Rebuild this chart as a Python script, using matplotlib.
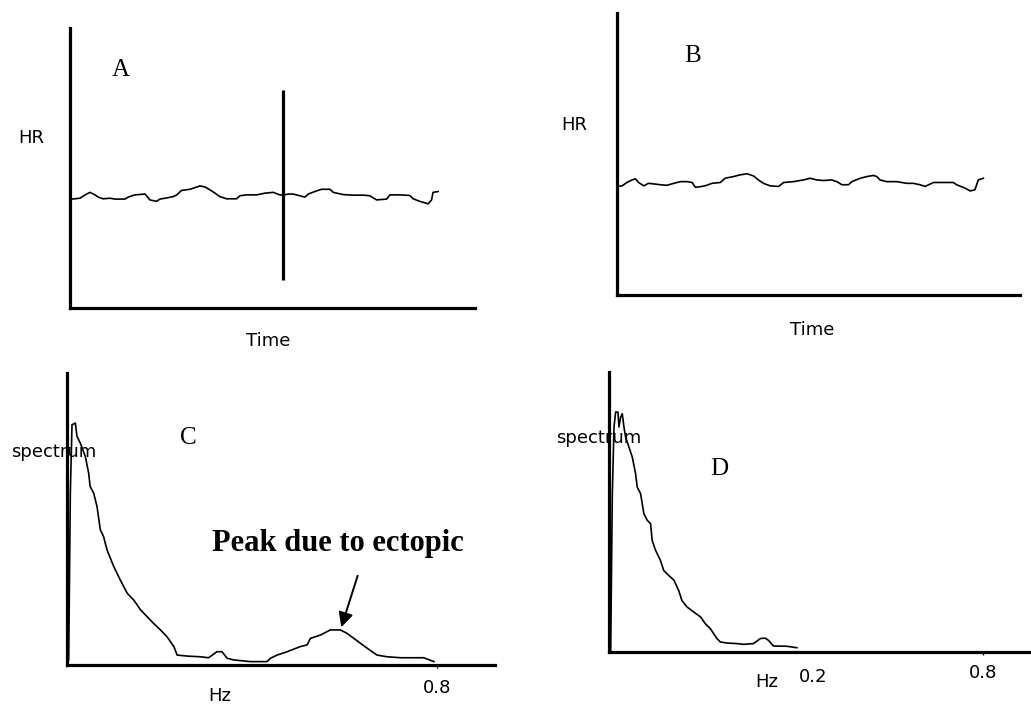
import matplotlib
matplotlib.use("Agg")
import matplotlib.pyplot as plt
import numpy as np

# --- data (arbitrary units) ---
# Panel A: HR trace with an ectopic spike
time_a = [0.45, 2.7, 4.1, 5.4, 6.8, 7.7, 9.0, 10.9, 12.2, 14.9, 15.8, 17.6, 20.4, 21.7, 23.5,
          24.4, 25.8, 28.1, 29.0, 30.3, 32.6, 34.4, 35.3, 36.7, 38.0, 39.4, 40.7, 42.5, 45.2,
          46.2, 48.0, 50.7, 52.9, 55.2, 57.0, 57.9, 59.3, 60.6, 62.4, 63.8, 64.7, 66.5, 68.3,
          70.6, 71.5, 74.2, 76.9, 79.6, 81.4, 83.3, 86.0, 86.9, 89.6, 92.3, 93.2, 95.0, 97.3,
          98.2, 98.6, 100.0]
hr_a = [38.9, 39.2, 40.4, 41.3, 40.4, 39.6, 39.0, 39.2, 38.9, 38.9, 39.6, 40.4, 40.7, 38.6, 38.1,
        38.9, 39.2, 39.8, 40.4, 42.0, 42.4, 43.2, 43.6, 43.2, 42.2, 41.0, 39.8, 39.0, 39.0,
        40.1, 40.4, 40.4, 41.0, 41.3, 40.4, 40.3, 40.7, 40.7, 40.1, 39.6, 40.7, 41.6, 42.4,
        42.4, 41.3, 40.5, 40.3, 40.3, 40.1, 38.6, 38.9, 40.4, 40.4, 40.2, 39.0, 38.1, 37.2,
        38.6, 41.3, 41.6]
ectopic_time = 57.9
ectopic_range = (10.1, 77.9)

# Panel B: HR trace after correction
time_b = [0.0, 1.4, 2.7, 4.1, 5.0, 5.9, 7.3, 8.6, 10.0, 11.8, 13.6, 15.5, 17.3, 19.1, 20.5,
          21.4, 23.2, 24.5, 25.9, 28.2, 29.5, 31.8, 33.6, 35.5, 37.3, 38.6, 40.0, 41.8, 44.1,
          45.5, 48.2, 50.9, 52.7, 54.5, 56.4, 58.6, 60.0, 61.4, 63.2, 64.1, 66.4, 68.2, 70.0,
          70.9, 71.8, 73.6, 76.4, 79.1, 80.9, 82.7, 84.1, 86.4, 89.1, 91.8, 92.7, 95.0, 96.4,
          97.7, 98.6, 100.0]
hr_b = [38.5, 38.7, 39.9, 40.8, 41.2, 39.9, 38.7, 39.6, 39.4, 39.1, 38.9, 39.6, 40.2, 40.2, 39.9,
        38.2, 38.5, 38.9, 39.6, 39.9, 41.4, 42.0, 42.6, 43.0, 42.2, 40.8, 39.6, 38.7, 38.5,
        39.9, 40.2, 40.8, 41.4, 40.8, 40.6, 40.8, 40.2, 39.1, 39.1, 40.2, 41.4, 42.0, 42.4,
        42.0, 40.8, 40.2, 40.2, 39.6, 39.6, 39.1, 38.5, 39.9, 39.9, 39.9, 39.1, 37.9, 36.9,
        37.3, 40.8, 41.4]

# Panel C: spectrum with ectopic peak
freq_c = [0.0036, 0.0072, 0.0108, 0.018, 0.0216, 0.0288, 0.0396, 0.0468, 0.050, 0.0577,
          0.0649, 0.072, 0.079, 0.0865, 0.101, 0.115, 0.130, 0.144, 0.159, 0.173, 0.187,
          0.202, 0.216, 0.231, 0.238, 0.259, 0.288, 0.306, 0.324, 0.335, 0.346, 0.360, 0.396,
          0.432, 0.440, 0.454, 0.476, 0.504, 0.519, 0.526, 0.548, 0.569, 0.591, 0.605, 0.620,
          0.634, 0.649, 0.670, 0.692, 0.721, 0.771, 0.793]
power_c = [0.021, 0.71, 0.993, 1.0, 0.945, 0.917, 0.862, 0.793, 0.738, 0.710, 0.655, 0.559,
           0.531, 0.476, 0.407, 0.352, 0.297, 0.269, 0.228, 0.2, 0.172, 0.145, 0.117, 0.076,
           0.041, 0.037, 0.034, 0.030, 0.055, 0.055, 0.028, 0.021, 0.014, 0.014, 0.028, 0.041,
           0.055, 0.076, 0.083, 0.110, 0.124, 0.145, 0.145, 0.131, 0.110, 0.090, 0.069, 0.041,
           0.034, 0.030, 0.030, 0.014]
peak_freq, peak_power = 0.591, 0.145

# Panel D: spectrum after correction
freq_d = [0.0036, 0.0071, 0.0107, 0.0142, 0.0192, 0.0213, 0.0249, 0.0284, 0.032, 0.0356,
          0.0427, 0.0498, 0.0569, 0.0604, 0.0676, 0.0747, 0.0818, 0.0889, 0.0924, 0.0996,
          0.110, 0.117, 0.124, 0.139, 0.149, 0.156, 0.167, 0.181, 0.196, 0.206, 0.217, 0.224,
          0.231, 0.238, 0.252, 0.274, 0.288, 0.309, 0.324, 0.334, 0.341, 0.352, 0.380, 0.402]
power_d = [0.007, 0.66, 0.9375, 1.0, 1.0, 0.9375, 0.979, 0.993, 0.9375, 0.896, 0.854, 0.8125,
           0.743, 0.6875, 0.66, 0.576, 0.549, 0.535, 0.465, 0.424, 0.382, 0.340, 0.326, 0.299,
           0.257, 0.215, 0.1875, 0.167, 0.146, 0.118, 0.097, 0.076, 0.056, 0.042, 0.0375,
           0.035, 0.032, 0.035, 0.056, 0.058, 0.049, 0.025, 0.024, 0.018]

W, H = 1031, 705
fig = plt.figure(figsize=(W / 100, H / 100), dpi=100)
fig.patch.set_facecolor('white')

SANS = 'DejaVu Sans'
SERIF = 'Liberation Serif'
LBL = 13


def box(left, top, right, bottom):
    # pixel box -> figure fraction rect
    return [left / W, 1 - bottom / H, (right - left) / W, (bottom - top) / H]


def ftext(x, y, s, **kw):
    fig.text(x / W, 1 - y / H, s, ha='center', va='center', **kw)


def style(ax):
    for side in ('top', 'right'):
        ax.spines[side].set_visible(False)
    for side in ('left', 'bottom'):
        ax.spines[side].set_linewidth(2.3)
        ax.spines[side].set_color('black')
    ax.set_yticks([])
    ax.set_xticks([])
    ax.set_facecolor('none')


axA = fig.add_axes(box(70, 28, 475, 308))
axB = fig.add_axes(box(617, 13, 1020, 295))
axC = fig.add_axes(box(67, 373, 495, 665))
axD = fig.add_axes(box(609, 372, 1031, 652))

for ax in (axA, axB, axC, axD):
    style(ax)

# HR traces
axA.plot(time_a, hr_a, color='black', lw=1.2)
axA.vlines(ectopic_time, *ectopic_range, color='black', lw=2.3)
axA.set_xlim(0, 110)
axA.set_ylim(0, 100)

axB.plot(time_b, hr_b, color='black', lw=1.2)
axB.set_xlim(0, 110)
axB.set_ylim(0, 100)

# spectra
axC.plot(freq_c, power_c, color='black', lw=1.2)
axC.set_xlim(0, 0.925)
axC.set_ylim(0, 1.207)
axC.set_xticks([0.8])
axC.set_xticklabels(['0.8'], fontsize=LBL, family=SANS)
axC.tick_params(axis='x', length=2, width=1, pad=8)
axC.annotate('', xy=(peak_freq, peak_power), xytext=(0.63, 0.38),
             arrowprops=dict(arrowstyle='-|>', color='black', lw=1.4, mutation_scale=22))

axD.plot(freq_d, power_d, color='black', lw=1.2)
axD.set_xlim(0, 0.903)
axD.set_ylim(0, 1.167)
axD.set_xticks([0.8])
axD.set_xticklabels(['0.8'], fontsize=LBL, family=SANS)
axD.tick_params(axis='x', length=2, width=1, pad=7)

# labels
ftext(31, 138, 'HR', fontsize=LBL, family=SANS)
ftext(268, 341, 'Time', fontsize=LBL, family=SANS)
ftext(121, 70, 'A', fontsize=18, family=SERIF)

ftext(574, 125, 'HR', fontsize=LBL, family=SANS)
ftext(812, 330, 'Time', fontsize=LBL, family=SANS)
ftext(693, 56, 'B', fontsize=18, family=SERIF)

ftext(54, 452, 'spectrum', fontsize=LBL, family=SANS, zorder=-1)
ftext(188, 438, 'C', fontsize=18, family=SERIF)
ftext(220, 696, 'Hz', fontsize=LBL, family=SANS)
ftext(338, 543, 'Peak due to ectopic', fontsize=22, family=SERIF, fontweight='bold')

ftext(599, 438, 'spectrum', fontsize=LBL, family=SANS, zorder=-1)
ftext(719, 469, 'D', fontsize=18, family=SERIF)
ftext(767, 682, 'Hz', fontsize=LBL, family=SANS)
ftext(813, 677, '0.2', fontsize=LBL, family=SANS)

fig.savefig('out.png', dpi=100, facecolor='white')
